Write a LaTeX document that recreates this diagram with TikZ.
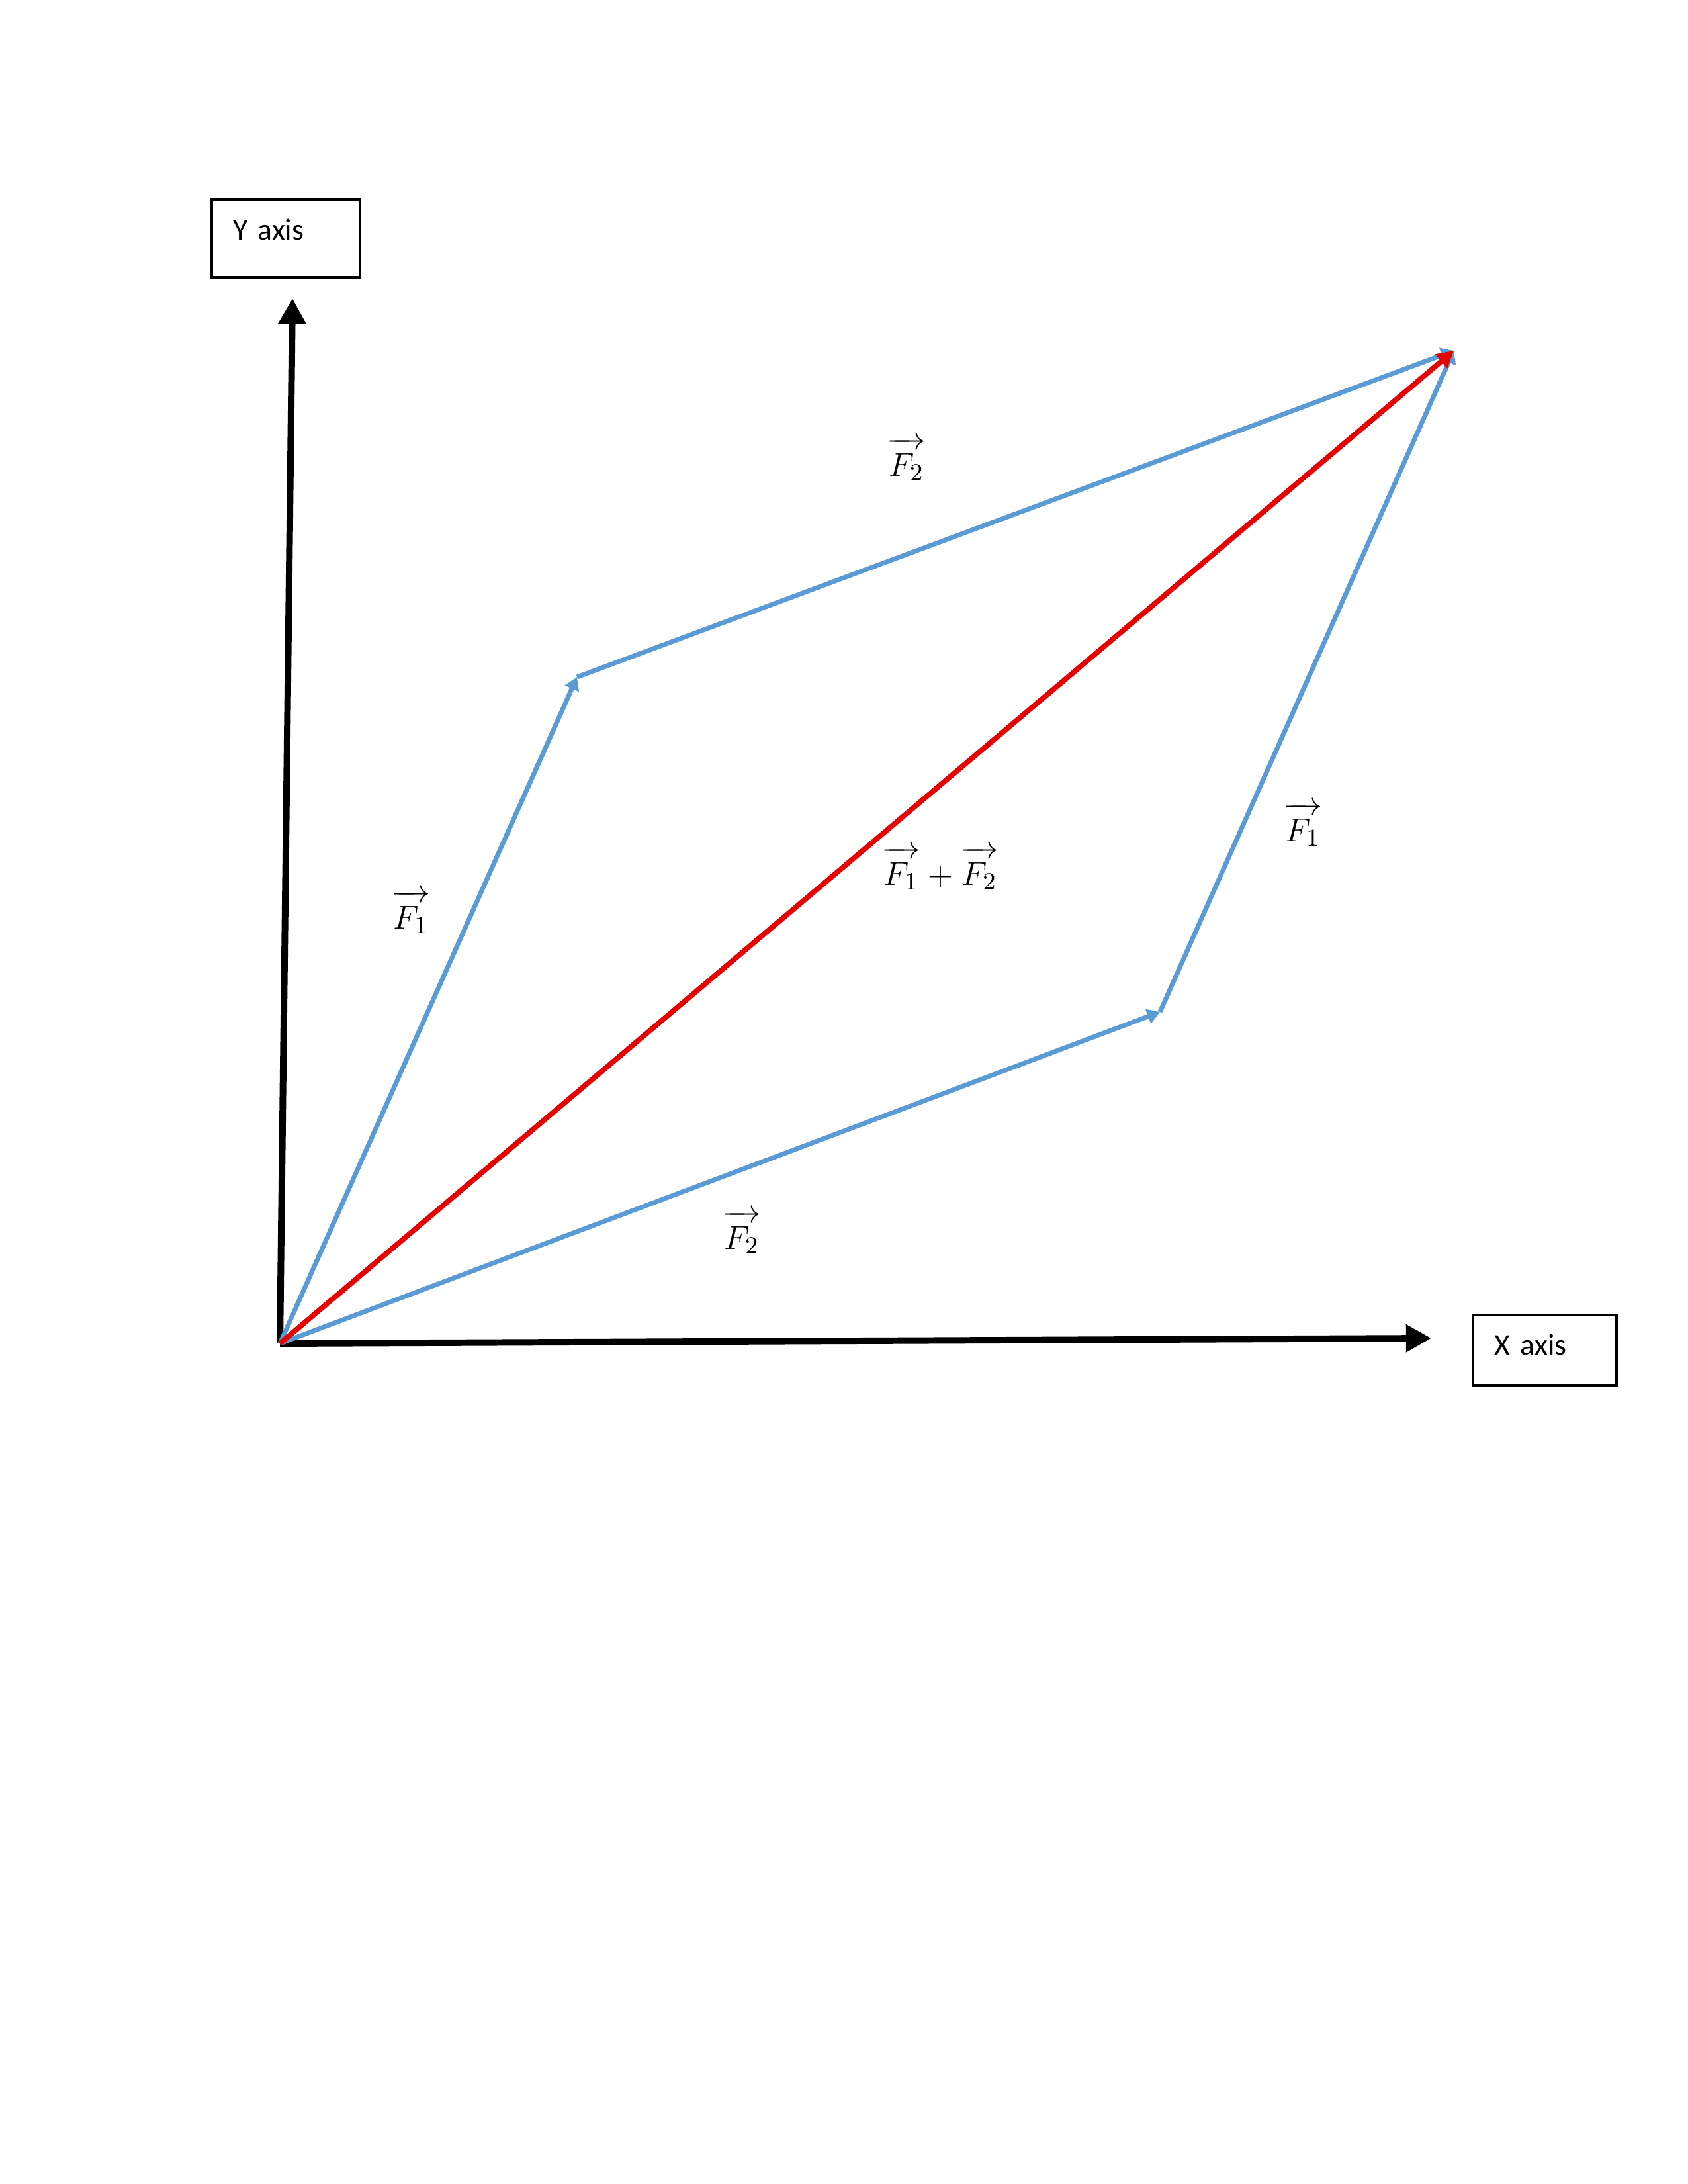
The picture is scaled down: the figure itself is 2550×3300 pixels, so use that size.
\documentclass[tikz,border=0pt]{standalone}
\usepackage{fontspec}
\setmainfont{Carlito}
\usepackage{tikz}
\usetikzlibrary{arrows.meta, positioning}
\definecolor{forceblue}{RGB}{91, 155, 213}
\definecolor{sumred}{RGB}{230, 0, 0}
\newcommand\fvec[1]{\overrightarrow{\rule{0pt}{1.72ex}\mkern1mu#1\mkern1mu}}

\begin{document}
\begin{tikzpicture}[
  x=0.24088pt, y=-0.24088pt,
  axis/.style = {-{Triangle[length=9.2pt, width=9.6pt]}, line width=2.4pt, black},
  force/.style = {-{Triangle[length=4.6pt, width=5.4pt]}, line width=1.7pt, forceblue},
  resultant/.style = {-{Triangle[length=6pt, width=6.4pt]}, line width=1.9pt, sumred},
  axisbox/.style = {rectangle, draw=black, line width=1pt, align=left,
                    inner ysep=0pt, font=\fontsize{11}{13}\selectfont},
  lbl/.style = {font=\fontsize{13}{15}\selectfont, inner sep=0pt}
]
\useasboundingbox (0,0) rectangle (2550,3300);
% points of the parallelogram
\coordinate (O)  at (423,2030);
\coordinate (F1) at (872,1023);
\coordinate (F2) at (1753,1529);
\coordinate (S)  at (2197,530);
\coordinate (ytip) at (442,451);
\coordinate (xtip) at (2163,2022);
% axis boxes
\node[axisbox, anchor=north west, inner xsep=7.7pt, text width=38.5pt,
      text height=14.7pt, text depth=13.7pt] (ybox) at (318,299) {Y axis};
\node[axisbox, anchor=north west, inner xsep=7.9pt, text width=36.4pt,
      text height=14.5pt, text depth=11.1pt] (xbox) at (2224,1985) {X axis};
% axes
\draw[axis] (O) -- (ytip);
\draw[axis] (O) -- (xtip);
% forces
\draw[force] (O) -- (F1);
\draw[force] (O) -- (F2);
\draw[force] (F1) -- (S);
\draw[force] (F2) -- (S);
\draw[resultant] (O) -- (S);
% labels
\node[lbl] (l1a) at (621,1378) {$\fvec{F_1}$};
\node[lbl] (l1b) at (1969,1246) {$\fvec{F_1}$};
\node[lbl] (l2a) at (1370,694) {$\fvec{F_2}$};
\node[lbl] (l2b) at (1121,1862) {$\fvec{F_2}$};
\node[lbl] (lsum) at (1421,1312) {$\fvec{F_1}+\fvec{F_2}$};
\end{tikzpicture}
\end{document}
